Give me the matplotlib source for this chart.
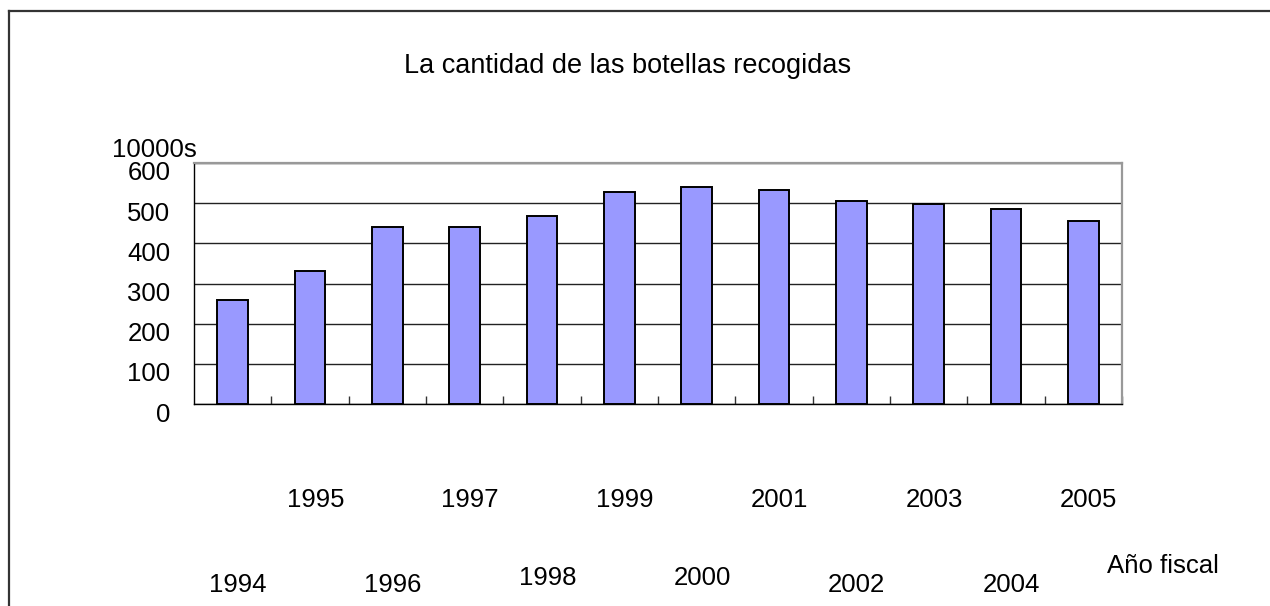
import matplotlib
matplotlib.use("Agg")
import matplotlib.pyplot as plt
import matplotlib.transforms as mtransforms
from matplotlib.lines import Line2D
import numpy as np

plt.rcParams['font.family'] = ['Liberation Sans', 'DejaVu Sans']

#***************
#Data
#***************
years = ['1994', '1995', '1996', '1997', '1998', '1999',
         '2000', '2001', '2002', '2003', '2004', '2005']
bottles = [259, 332, 441, 441, 468, 527, 541, 532, 505, 497, 486, 455]
title = 'La cantidad de las botellas recogidas'
unit_label = '10000s'
x_title = 'Año fiscal'

# baseline (pixels from top) of each year label, the labels are staggered
label_baseline = [592, 507, 592, 507, 585, 507, 585, 507, 592, 507, 592, 507]

W, H = 1270, 606
fig = plt.figure(figsize=(W / 100, H / 100), dpi=100)
ax = fig.add_axes([194 / W, (H - 404) / H, 928 / W, 241 / H])

x = np.arange(len(years))
ax.bar(x, bottles, width=0.4, color='#9999ff', edgecolor='black',
       linewidth=1.4, zorder=3)

ax.set_xlim(-0.5, len(years) - 0.5)
ax.set_ylim(0, 600)
ax.set_yticks(range(0, 601, 100))
ax.yaxis.grid(True, color='#222222', linewidth=1.0, zorder=0)
ax.set_axisbelow(True)
ax.tick_params(axis='y', length=0, pad=17, labelsize=18.5)
# the value labels sit a bit under their grid lines
shift = mtransforms.ScaledTranslation(0, -0.08, fig.dpi_scale_trans)
for lbl in ax.get_yticklabels():
    lbl.set_transform(lbl.get_transform() + shift)

ax.set_xticks(np.arange(0.5, len(years), 1))
ax.tick_params(axis='x', direction='in', length=6, width=1,
               color='#333333', labelbottom=False)

for side in ['top', 'right']:
    ax.spines[side].set_color('#999999')
    ax.spines[side].set_linewidth(1.6)
for side in ['left', 'bottom']:
    ax.spines[side].set_color('black')
    ax.spines[side].set_linewidth(1.0)

# year labels, data x with a small pixel nudge, figure y
trans = mtransforms.blended_transform_factory(ax.transData, fig.transFigure)
nudge = mtransforms.ScaledTranslation(0.055, 0, fig.dpi_scale_trans)
for i, (yr, py) in enumerate(zip(years, label_baseline)):
    ax.text(x[i], (H - py) / H, yr, transform=trans + nudge,
            ha='center', va='baseline', fontsize=18.5)

fig.text(1107 / W, (H - 573) / H, x_title, ha='left', va='baseline', fontsize=18.5)
fig.text(197 / W, (H - 157) / H, unit_label, ha='right', va='baseline', fontsize=18.5)
fig.text(628 / W, (H - 73) / H, title, ha='center', va='baseline', fontsize=19.5)

# outer frame, only top and left edges fall inside the picture
fig.add_artist(Line2D([9 / W, 9 / W], [0, (H - 11) / H], color='#333333', lw=1.6))
fig.add_artist(Line2D([9 / W, 1], [(H - 11) / H, (H - 11) / H], color='#333333', lw=1.6))

fig.savefig('out.png', dpi=100)
